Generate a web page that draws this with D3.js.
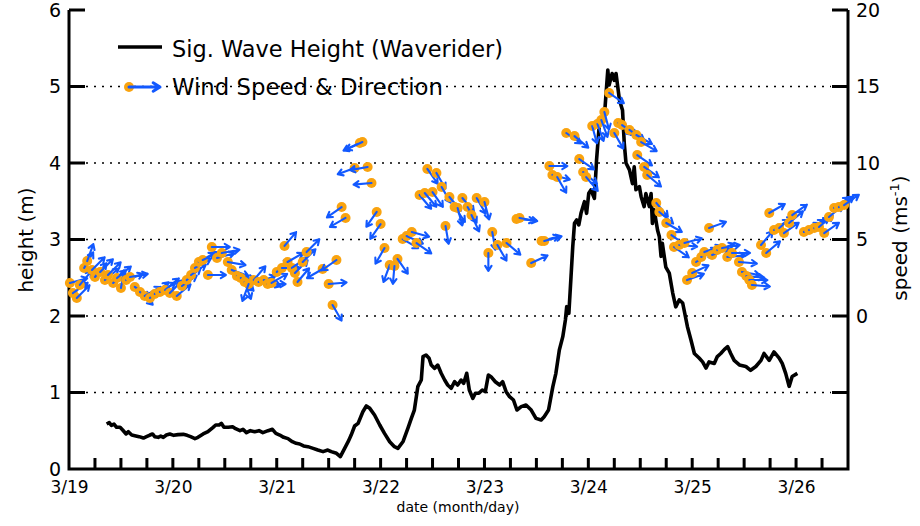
<!DOCTYPE html>
<html><head><meta charset="utf-8">
<script src="https://cdn.jsdelivr.net/npm/d3@7"></script>
<style>body{margin:0;background:#fff}svg{display:block}text{font-family:"DejaVu Sans",sans-serif;fill:#000}</style>
</head><body>
<script>
// Hours since 3/19 00:00
const waveHours=[8.7,9.3,9.8,10.4,11.0,11.8,12.4,13.2,13.7,14.5,15.2,16.2,17.2,17.9,18.7,19.3,19.8,20.6,21.2,21.8,22.5,23.3,24.2,25.2,26.4,27.3,28.1,29.1,29.8,31.0,32.1,33.3,33.9,34.7,35.2,35.8,36.8,37.8,38.5,39.5,40.2,41.0,41.9,42.9,43.9,44.8,46.0,47.0,47.8,48.7,49.6,50.6,51.6,52.5,53.3,54.2,55.2,56.4,57.5,58.7,59.8,60.6,61.8,62.7,63.3,64.5,65.2,66.0,66.8,67.9,68.7,69.5,70.6,71.8,72.9,74.1,75.2,76.0,77.2,78.3,79.1,79.8,80.6,81.4,81.8,82.5,83.2,83.7,84.5,85.2,86.0,86.8,87.5,88.3,89.1,89.8,90.6,91.2,91.9,92.5,93.3,93.9,94.7,95.5,96.2,96.9,97.5,98.5,99.5,100.2,101.0,101.8,102.7,103.5,104.5,105.6,106.8,107.9,109.1,109.8,110.8,111.8,112.5,113.3,114.1,114.7,115.0,115.5,116.0,116.4,116.8,117.3,117.8,118.3,119.1,119.6,120.1,120.6,121.4,121.9,122.5,123.7,124.1,124.5,124.8,125.5,126.0,126.4,127.2,127.9,128.3,128.7,129.5,130.2,130.6,131.0,131.8,132.2,132.9,133.3,134.1,134.5,134.8,135.2,136.0,136.4,136.8,137.1,137.9,138.7,139.5,140.2,141.0,141.8,142.9,143.7,144.5,145.6,146.4,147.2,147.9,149.1,149.8,150.6,151.4,152.2,152.9,153.7,154.9,156.4,157.5,158.7,159.9,160.6,161.8,162.9,164.1,164.8,165.6,166.4,167.1,168.3];
const waveHeight=[0.588,0.606,0.571,0.588,0.545,0.545,0.510,0.458,0.488,0.444,0.436,0.423,0.405,0.423,0.444,0.458,0.423,0.414,0.431,0.414,0.444,0.458,0.440,0.449,0.453,0.440,0.423,0.397,0.414,0.458,0.488,0.545,0.575,0.575,0.597,0.545,0.545,0.553,0.527,0.501,0.519,0.475,0.501,0.488,0.501,0.475,0.501,0.519,0.466,0.444,0.414,0.397,0.357,0.336,0.327,0.301,0.292,0.270,0.248,0.227,0.248,0.227,0.205,0.161,0.227,0.357,0.444,0.562,0.597,0.749,0.824,0.793,0.706,0.575,0.466,0.357,0.292,0.270,0.36,0.532,0.662,0.771,1.076,1.163,1.468,1.490,1.447,1.359,1.316,1.359,1.251,1.163,1.098,1.055,1.141,1.098,1.163,1.120,1.251,1.033,0.924,0.990,0.990,1.033,1.011,1.229,1.207,1.141,1.098,1.141,1.011,0.946,0.902,0.771,0.815,0.837,0.771,0.662,0.641,0.684,0.771,1.076,1.251,1.556,1.730,1.948,2.122,2.035,2.514,2.906,3.212,3.255,3.190,3.342,3.494,3.342,3.604,3.647,3.538,4.039,4.475,4.605,4.911,5.216,5.02,5.17,5.08,5.17,4.82,4.69,4.26,4.00,3.91,3.73,3.95,3.65,3.69,3.56,3.43,3.60,3.43,3.60,3.21,3.39,3.12,3.04,2.78,2.95,2.64,2.56,2.30,2.12,2.21,2.17,1.86,1.69,1.51,1.45,1.40,1.32,1.40,1.38,1.47,1.51,1.56,1.60,1.51,1.42,1.36,1.34,1.29,1.34,1.42,1.51,1.42,1.53,1.45,1.38,1.25,1.08,1.21,1.25];

const windHours=[0.2,0.9,1.8,2.5,3.5,4.2,5.3,6.0,7.2,8.3,9.0,10.2,11.1,12.0,13.2,14.1,15.2,16.4,17.5,18.7,19.8,21.0,22.2,23.3,24.9,26.1,27.2,28.2,29.1,30.0,30.9,32.1,33.0,34.2,35.3,36.7,37.6,38.8,39.7,40.6,41.5,42.7,43.8,45.0,45.9,46.8,48.0,49.2,49.8,50.5,51.5,52.2,52.8,54.0,54.9,58.6,60.0,60.9,61.8,63.0,63.9,66.0,67.2,67.8,69.0,69.9,71.1,72.0,72.9,74.1,75.2,75.9,77.1,78.0,79.2,80.3,81.0,82.2,82.8,84.0,84.9,86.1,87.0,87.9,89.1,89.8,90.9,92.1,93.0,94.2,96.0,96.9,97.8,99.0,101.1,103.4,104.1,106.8,109.2,109.8,111.0,111.7,112.8,114.9,116.8,117.9,118.8,119.5,120.9,122.1,123.0,123.7,124.8,126.0,126.9,127.8,129.5,131.1,131.3,132.2,132.9,133.6,135.7,136.4,138.0,139.2,139.8,141.0,142.2,142.8,144.0,144.9,146.1,146.8,147.9,148.6,149.8,150.9,152.1,153.2,154.8,155.5,156.5,157.2,157.8,159.9,161.1,161.8,162.9,164.1,165.2,166.4,167.1,169.8,171.0,172.2,173.3,174.5,175.6,176.8,177.9,179.1];
const windSpeed=[2.16,1.50,1.18,2.03,3.14,3.59,3.01,2.55,2.88,2.35,2.68,2.16,2.48,1.83,2.35,2.55,1.90,1.57,1.31,1.18,1.44,1.57,1.70,1.50,1.31,1.96,2.35,2.68,3.14,3.53,3.66,2.68,4.51,3.79,4.12,3.53,3.01,2.61,2.48,2.22,2.09,2.35,2.22,2.35,2.09,2.16,2.88,3.14,4.58,3.53,3.14,2.81,2.22,3.53,4.18,3.07,2.09,0.72,3.66,7.12,6.41,9.67,11.31,11.37,9.74,8.69,6.80,6.01,4.44,3.33,3.27,3.73,5.03,5.23,5.49,4.77,7.91,8.04,9.61,8.10,9.35,8.43,5.88,7.78,7.12,7.06,7.71,7.12,6.60,7.71,7.45,4.12,5.49,4.64,4.77,6.34,6.41,3.46,4.90,4.90,9.80,9.22,9.08,11.96,11.76,10.26,9.41,9.08,12.42,12.55,12.81,13.33,14.58,11.96,12.61,12.48,12.16,11.83,10.52,11.37,9.74,9.22,7.39,6.80,6.08,5.29,4.51,4.64,4.77,2.35,2.81,3.53,3.86,4.18,5.75,3.99,4.31,4.44,3.86,4.12,3.53,2.88,2.61,2.35,2.03,4.64,4.12,6.73,5.62,5.75,5.42,6.08,6.60,5.49,5.62,5.75,5.82,5.42,6.47,7.06,7.12,7.25];
// direction the wind blows toward (compass degrees, 0 = up/north, 90 = right/east)
const windDir=[75,55,45,40,30,20,45,40,45,50,45,45,50,10,70,80,125,135,60,55,50,60,50,45,50,55,50,55,60,60,65,90,90,75,80,100,110,100,135,160,200,40,70,110,90,60,45,90,40,60,55,45,40,45,45,240,85,150,235,235,240,250,245,245,260,265,215,215,210,200,185,145,120,115,105,125,140,140,145,145,150,150,170,140,145,165,140,150,155,150,165,180,170,150,130,95,100,65,75,75,90,105,150,125,130,125,130,140,165,160,160,165,125,150,130,125,125,120,125,120,125,130,140,130,120,125,125,95,75,70,65,55,60,70,70,70,70,80,85,90,95,100,95,90,95,40,50,60,55,50,55,50,55,60,55,55,50,55,50,55,55,55];

const dayLabels=["3/19","3/20","3/21","3/22","3/23","3/24","3/25","3/26"];
const hourTicks=d3.range(0,181,6);
const heightTicks=[0,1,2,3,4,5,6];
const speedTicks=[-5,0,5,10,15,20];
const gridHeights=[1,2,3,4,5];

const W=920,H=526;
const L=69,R=848,T=10,B=469;
const ORANGE="#f9a30f", BLUE="#1259ff";

const svg=d3.select("body").append("svg").attr("width",W).attr("height",H);
const x=d3.scaleLinear().domain([0,180]).range([L,R]);
const y=d3.scaleLinear().domain([0,6]).range([B,T]);
const ys=d3.scaleLinear().domain([-10,20]).range([B,T]);

// grid
svg.append("g").selectAll("line").data(gridHeights).join("line")
  .attr("x1",L+17).attr("x2",R-17).attr("y1",d=>y(d)).attr("y2",d=>y(d))
  .attr("stroke","#000").attr("stroke-width",1.6).attr("stroke-dasharray","2,6");

// axes: labels via d3 axes
function styleAxis(g,fs){
  g.select("path.domain").remove();
  g.selectAll(".tick line").remove();
  g.selectAll(".tick text").attr("fill","#000").style("font-family",'"DejaVu Sans",sans-serif').style("font-size",fs);
}
const gx=svg.append("g").attr("transform",`translate(0,${B})`)
  .call(d3.axisBottom(x).tickValues(hourTicks).tickSize(0).tickPadding(12)
    .tickFormat(d=>d%24===0?dayLabels[d/24]:""));
styleAxis(gx,"17px");
const gl=svg.append("g").attr("transform",`translate(${L},0)`)
  .call(d3.axisLeft(y).tickValues(heightTicks).tickSize(0).tickPadding(8).tickFormat(d3.format("d")));
styleAxis(gl,"19px");
const gr=svg.append("g").attr("transform",`translate(${R},0)`)
  .call(d3.axisRight(ys).tickValues(speedTicks).tickSize(0).tickPadding(8).tickFormat(d=>d>=0?d:""));
styleAxis(gr,"19px");

// frame + inward tick marks as one path
let dFrame=`M${L},${T}V${B}H${R}V${T}`;
hourTicks.filter(d=>d>0&&d<180).forEach(d=>{dFrame+=`M${x(d)},${B}V${B-11}`;});
heightTicks.filter(d=>d>0).forEach(d=>{dFrame+=`M${L},${y(d)}H${L+16}`;});
speedTicks.forEach(d=>{dFrame+=`M${R},${ys(d)}H${R-16}`;});
svg.append("path").attr("d",dFrame).attr("fill","none").attr("stroke","#000").attr("stroke-width",3);

// axis titles
svg.append("text").attr("transform","translate(33,240) rotate(-90)").attr("text-anchor","middle")
  .style("font-size","20px").text("height (m)");
const st=svg.append("text").attr("transform","translate(907,238) rotate(-90)").attr("text-anchor","middle")
  .style("font-size","20px");
st.append("tspan").text("speed (ms");
st.append("tspan").attr("dy",-8).style("font-size","13px").text("-1");
st.append("tspan").attr("dy",8).text(")");
svg.append("text").attr("x",458).attr("y",512).attr("text-anchor","middle").style("font-size","14px").text("date (month/day)");

// wave line
const wave=waveHours.map((h,i)=>[h,waveHeight[i]]);
svg.append("path").datum(wave).attr("fill","none").attr("stroke","#000").attr("stroke-width",3.6)
  .attr("stroke-linejoin","round")
  .attr("d",d3.line().x(d=>x(d[0])).y(d=>y(d[1])));

// wind arrows
const ALEN=18, HEAD=6;
function arrow(g,x0,y0,deg,len,head,sw){
  const a=deg*Math.PI/180, dx=Math.sin(a), dy=-Math.cos(a);
  const x1=x0+dx*len, y1=y0+dy*len;
  const ang=Math.atan2(dy,dx);
  const h1=[x1-head*Math.cos(ang-0.55), y1-head*Math.sin(ang-0.55)];
  const h2=[x1-head*Math.cos(ang+0.55), y1-head*Math.sin(ang+0.55)];
  g.append("path").attr("d",`M${x0},${y0}L${x1},${y1}M${h1[0]},${h1[1]}L${x1},${y1}L${h2[0]},${h2[1]}`)
    .attr("fill","none").attr("stroke",BLUE).attr("stroke-width",sw).attr("stroke-linecap","round").attr("stroke-linejoin","round");
}
const wg=svg.append("g");
windHours.forEach((h,i)=>{
  const cx=x(h), cy=ys(windSpeed[i]);
  wg.append("circle").attr("cx",cx).attr("cy",cy).attr("r",5).attr("fill",ORANGE);
  arrow(wg,cx,cy,windDir[i],ALEN,HEAD,2.1);
});

// legend
svg.append("line").attr("x1",118).attr("x2",162).attr("y1",47).attr("y2",47).attr("stroke","#000").attr("stroke-width",3.4);
svg.append("text").attr("x",172).attr("y",57).style("font-size","23px")
  .attr("textLength",331).attr("lengthAdjust","spacingAndGlyphs").text("Sig. Wave Height (Waverider)");
svg.append("circle").attr("cx",129).attr("cy",87).attr("r",5).attr("fill",ORANGE);
arrow(svg,129,87,90,31,8,3);
svg.append("text").attr("x",172).attr("y",95).style("font-size","23px")
  .attr("textLength",271).attr("lengthAdjust","spacingAndGlyphs").text("Wind Speed & Direction");
</script>
</body></html>
